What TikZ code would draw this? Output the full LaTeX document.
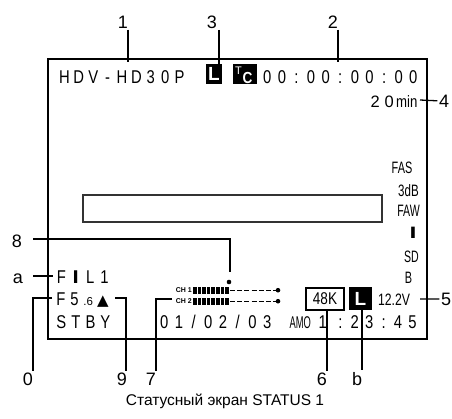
\documentclass[tikz,border=0pt]{standalone}
\usepackage{fontspec}
\setmainfont{Liberation Sans}
\newfontfamily\symfont{DejaVu Sans}
\usepackage{graphicx}
\newdimen\cellw
\newcommand\cellsx{0.8}
\makeatletter
\def\cells#1{\cells@i#1\relax}
\def\cells@i#1{\ifx\relax#1\else\makebox[\cellw][c]{\scalebox{\cellsx}[1]{#1}}\expandafter\cells@i\fi}
\makeatother
\newcommand\nar[2]{\scalebox{#1}[1]{#2}}
\begin{document}
\begin{tikzpicture}[x=1pt,y=-1pt,
  lead/.style={line width=1.3pt},
  lbl/.style={font=\fontsize{18}{18}\selectfont, anchor=base, inner sep=1.5pt},
  scr/.style={anchor=base west, inner sep=0pt, font=\fontsize{18.5}{18.5}\selectfont},
  rc/.style={anchor=base, inner sep=0pt, font=\fontsize{16.5}{16.5}\selectfont},
  blackbox/.style={fill=black, inner sep=0pt, text=white, font=\bfseries\fontsize{19}{19}\selectfont}]
\useasboundingbox (0,0) rectangle (452,418);

% screen frame
\node[draw, line width=2.2pt, minimum width=379, minimum height=280, inner sep=0] (screen) at (237.5,199) {};
% long bar
\node[draw, line width=1.1pt, draw=black!80, minimum width=299, minimum height=27, inner sep=0] (bar) at (232.5,208.5) {};

% top row
\node[scr] (hdv) at (57,83) {\cellw=14.4pt\cells{HDV-HD30P}};
\node[blackbox, minimum width=16, minimum height=20] (Ltop) at (214,74) {L};
\node[fill=black, minimum width=24, minimum height=20, inner sep=0] (tcbox) at (245,74) {};
\node[anchor=base, inner sep=0, text=white, font=\fontsize{11}{11}\selectfont] (tcT) at (238.5,74) {T};
\node[anchor=base, inner sep=0, text=white, font=\bfseries\fontsize{16}{16}\selectfont] (tcC) at (247.5,83) {\nar{0.85}{C}};
\node[scr] (tc) at (259.8,83) {\cellw=14.6pt\cells{00:00:00:00}};
\node[anchor=base west, inner sep=0, font=\fontsize{16.5}{16.5}\selectfont] (rem) at (368,107)
  {\makebox[14pt]{2}\makebox[14pt]{0}\nar{0.8}{min}};

% right column
\node[rc] (fas) at (402,173) {\nar{0.66}{FAS}};
\node[rc] (db) at (408.5,196) {\nar{0.7}{3dB}};
\node[rc] (faw) at (408.5,216) {\nar{0.64}{FAW}};
\node[rc] (ibar) at (413,238) {\nar{1.5}{\bfseries I}};
\node[rc] (sd) at (411.5,262) {\nar{0.64}{SD}};
\node[rc] (bb) at (408.5,283) {\nar{0.66}{B}};

% left lower block
\node[scr] (fil) at (54,283) {\cellw=14.4pt\cells{F{\nar{1.5}{\bfseries I}}L1}};
\node[scr] (fnum) at (54,305) {\cellw=13.5pt\cells{F5}\makebox[14pt]{\fontsize{11.5}{11.5}\selectfont .6}};
\node[anchor=base, inner sep=0, font=\symfont\fontsize{15}{15}\selectfont] (tri) at (103,305) {▲};
\node[scr] (stby) at (53.7,328) {\cellw=14.7pt\cells{STBY}};
\node[scr] (date) at (156.7,328) {\cellw=14.7pt\cells{01/02/03}};
\node[scr] (amo) at (288,328) {\makebox[24pt]{\fontsize{17}{17}\selectfont\nar{0.55}{AMO}}\makebox[21pt]{\nar{0.8}{1}}\cellw=14.4pt\cells{:23:45}};

% audio meter
\node[anchor=east, inner sep=0, font=\bfseries\fontsize{7}{7}\selectfont] (ch1) at (192,290) {CH 1};
\node[anchor=east, inner sep=0, font=\bfseries\fontsize{7}{7}\selectfont] (ch2) at (192,301) {CH 2};
\foreach \i in {0,...,7} {
  \fill (193+\i*4.6,287) rectangle +(3.5,6.5);
  \fill (193+\i*4.6,298) rectangle +(3.5,6.5);
}
\coordinate (m1s) at (230,290.2); \coordinate (m1e) at (278,290.2);
\coordinate (m2s) at (230,301.2); \coordinate (m2e) at (278,301.2);
\draw[dash pattern=on 5pt off 2.2pt, line width=1.4pt] (m1s) -- (m1e);
\draw[dash pattern=on 5pt off 2.2pt, line width=1.4pt] (m2s) -- (m2e);
\fill (m1e) circle (2.3);
\fill (m2e) circle (2.3);
\coordinate (peak) at (229,282);
\fill (peak) circle (2.3);

% bottom right
\node[draw, line width=1.4pt, minimum width=38, minimum height=22, inner sep=0, font=\fontsize{17}{17}\selectfont] (k48) at (325,299) {\nar{0.8}{48K}};
\node[blackbox, minimum width=23, minimum height=23] (Lb) at (360.5,298.5) {L};
\node[anchor=base, inner sep=0, font=\fontsize{16.5}{16.5}\selectfont] (volt) at (394,305) {\nar{0.74}{12.2V}};

% labels
\node[lbl] (l1) at (123,28) {1};
\node[lbl] (l3) at (212,28) {3};
\node[lbl] (l2) at (333,28) {2};
\node[lbl] (l4) at (444,107) {4};
\node[lbl] (l5) at (446,305) {5};
\node[lbl] (l8) at (17,247) {8};
\node[lbl] (la) at (18,283) {a};
\node[lbl] (l0) at (28,385) {0};
\node[lbl] (l9) at (122,385) {9};
\node[lbl] (l7) at (151,385) {7};
\node[lbl] (l6) at (322,385) {6};
\node[lbl] (lb) at (357,385) {b};

% leader coordinates
\coordinate (t1) at (128,62);
\coordinate (t2) at (338,62);
\coordinate (t3) at (219,64);
\coordinate (f4) at (420,100);
\coordinate (f5) at (420,299);
\coordinate (f8) at (33,239); \coordinate (k8) at (230,239); \coordinate (e8) at (230,272);
\coordinate (fa) at (33,276); \coordinate (ea) at (53,276);
\coordinate (f0) at (52,298); \coordinate (k0) at (33,298);
\coordinate (f9) at (115,298); \coordinate (k9) at (126,298);
\coordinate (f7) at (172,299); \coordinate (k7) at (156,299);
\coordinate (t6) at (327,310);
\coordinate (tb) at (362,310);

% leaders
\draw[lead] (l1.south -| t1) -- (t1);
\draw[lead] (l2.south -| t2) -- (t2);
\draw[lead] (l3.south -| t3) -- (t3);
\draw[lead] (f4) -- (l4.west);
\draw[lead] (f5) -- (l5.west);
\draw[lead] (f8) -- (k8) -- (e8);
\draw[lead] (fa) -- (ea);
\draw[lead] (f0) -- (k0) -- (l0.north -| k0);
\draw[lead] (f9) -- (k9) -- (l9.north -| k9);
\draw[lead] (f7) -- (k7) -- (l7.north -| k7);
\draw[lead] (t6) -- (l6.north -| t6);
\draw[lead] (tb) -- (lb.north -| tb);

% caption
\node[anchor=base, inner sep=0, font=\fontsize{15.5}{15.5}\selectfont] (cap) at (225,405) {Статусный экран STATUS 1};
\end{tikzpicture}
\end{document}
